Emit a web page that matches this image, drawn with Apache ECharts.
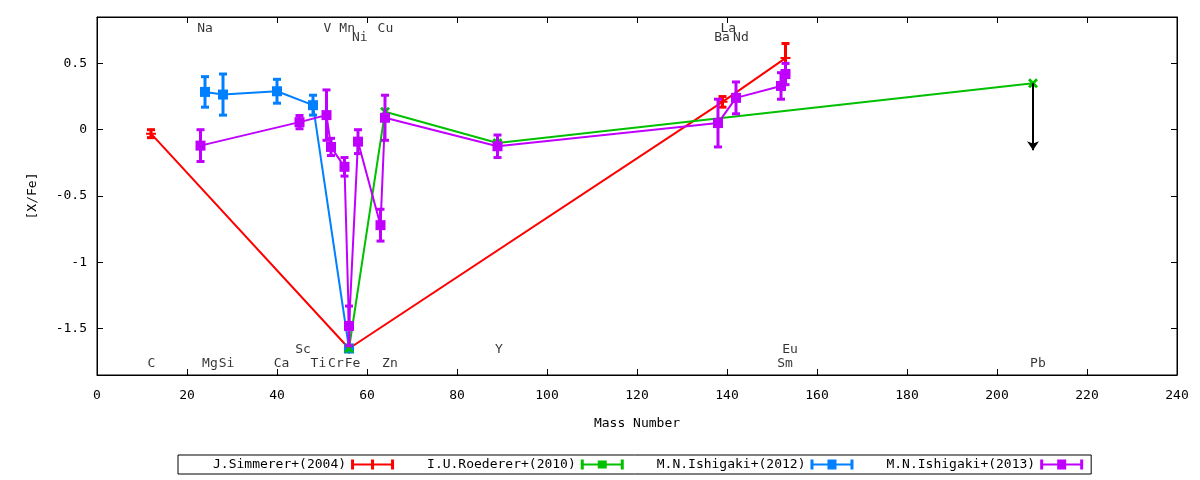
<!DOCTYPE html>
<html><head><meta charset="utf-8">
<script src="https://cdn.jsdelivr.net/npm/echarts@6/dist/echarts.min.js"></script>
<style>html,body{margin:0;padding:0;background:#fff}#c{width:1200px;height:480px}</style>
</head><body><div id="c"></div>
<script>
// ---- data ----
const xTicks = [0, 20, 40, 60, 80, 100, 120, 140, 160, 180, 200, 220, 240];
const yTicks = [-1.5, -1, -0.5, 0, 0.5];
const seriesNames = ['J.Simmerer+(2004)', 'I.U.Roederer+(2010)', 'M.N.Ishigaki+(2012)', 'M.N.Ishigaki+(2013)'];

const simmererMass = [12, 56, 139, 153];
const simmererVal  = [-0.03, -1.65, 0.21, 0.54];
const simmererErr  = [0.03, 0, 0.04, 0.11];

const roedererMass = [56, 64, 89, 208];
const roedererVal  = [-1.65, 0.135, -0.10, 0.35];
const roedererErr  = [0, 0, 0, 0];
const roedererLimitMass = [208];
const roedererLimitFrom = [0.35];
const roedererLimitTo   = [-0.155];

const ishigaki12Mass = [24, 28, 40, 48, 56];
const ishigaki12Val  = [0.285, 0.265, 0.29, 0.185, -1.65];
const ishigaki12Err  = [0.115, 0.155, 0.09, 0.075, 0];

const ishigaki13Mass = [23, 45, 51, 52, 55, 56, 58, 63, 64, 89, 138, 142, 152, 153];
const ishigaki13Val  = [-0.12, 0.057, 0.11, -0.13, -0.28, -1.48, -0.09, -0.72, 0.09, -0.125, 0.05, 0.24, 0.33, 0.42];
const ishigaki13Err  = [0.12, 0.05, 0.19, 0.065, 0.07, 0.15, 0.09, 0.12, 0.17, 0.085, 0.18, 0.12, 0.10, 0.08];

const elemNames = ['C', 'Na', 'Mg', 'Si', 'Ca', 'Sc', 'Ti', 'V', 'Cr', 'Mn', 'Fe', 'Ni', 'Cu', 'Zn', 'Y', 'Ba', 'La', 'Nd', 'Sm', 'Eu', 'Pb'];
const elemLabelX = [12.1, 24.0, 25.1, 28.8, 41.0, 45.8, 49.2, 51.2, 53.1, 55.6, 56.8, 58.4, 64.1, 65.1, 89.3, 138.9, 140.3, 143.1, 152.9, 154.0, 209.1];
const elemLabelY = [-1.766, 0.766, -1.766, -1.766, -1.766, -1.658, -1.766, 0.766, -1.766, 0.766, -1.766, 0.696, 0.766, -1.766, -1.658, 0.696, 0.766, 0.696, -1.766, -1.658, -1.766];

// ---- helpers ----
const colors = ['#ff0000', '#00c000', '#0080ff', '#c000ff'];
const zOrder = [2, 4, 3, 5];
const FONT = 'DejaVu Sans Mono';
function zip(a, b, c) { return a.map((v, i) => c ? [v, b[i], c[i]] : [v, b[i]]); }

function errRender(color) {
  return function (params, api) {
    const x = api.value(0), y = api.value(1), e = api.value(2);
    if (!e) return null;
    const t = api.coord([x, y + e]), b = api.coord([x, y - e]);
    const hw = 4;
    const style = { stroke: color, lineWidth: 3 };
    return { type: 'group', children: [
      { type: 'line', shape: { x1: t[0], y1: t[1], x2: b[0], y2: b[1] }, style: style },
      { type: 'line', shape: { x1: t[0] - hw, y1: t[1], x2: t[0] + hw, y2: t[1] }, style: style },
      { type: 'line', shape: { x1: b[0] - hw, y1: b[1], x2: b[0] + hw, y2: b[1] }, style: style }
    ]};
  };
}

const symPlus = 'path://M4,0H6V10H4ZM0,4H10V6H0Z';
const symX = 'path://M0,2L2,0L5,3L8,0L10,2L7,5L10,8L8,10L5,7L2,10L0,8L3,5Z';
const symRect = 'rect';
const symbols = [symPlus, symX, symRect, symRect];
const symSizes = [10, 10, 10, 10];

const legBase = 'M0,0H3V10H0ZM40,0H43V10H40ZM0,4H43V6H0Z';
const legIcons = [
  'path://' + legBase + 'M20,0H23V10H20Z',
  'path://' + legBase + 'M17,1H26V9H17Z',
  'path://' + legBase + 'M17,0H26V10H17Z',
  'path://' + legBase + 'M17,0H26V10H17Z'
];

const masses = [simmererMass, roedererMass, ishigaki12Mass, ishigaki13Mass];
const vals = [simmererVal, roedererVal, ishigaki12Val, ishigaki13Val];
const errs = [simmererErr, roedererErr, ishigaki12Err, ishigaki13Err];

const series = [];
for (let i = 0; i < 4; i++) {
  const s = {
    name: seriesNames[i], type: 'line', data: zip(masses[i], vals[i]),
    color: colors[i],
    lineStyle: { color: colors[i], width: 2 },
    itemStyle: { color: colors[i], borderWidth: 0 },
    symbol: symbols[i], symbolSize: symSizes[i], showAllSymbol: true,
    xAxisIndex: 0, yAxisIndex: 0, z: zOrder[i]
  };
  if (i === 1) {
    s.markLine = {
      silent: true, symbol: ['none', 'arrow'], symbolSize: 9,
      lineStyle: { color: '#000', width: 2, type: 'solid' },
      label: { show: false },
      data: roedererLimitMass.map((m, k) => [{ coord: [m, roedererLimitFrom[k]] }, { coord: [m, roedererLimitTo[k]] }])
    };
  }
  series.push(s);
  series.push({
    name: 'err' + i, type: 'custom', renderItem: errRender(colors[i]),
    data: zip(masses[i], vals[i], errs[i]), encode: { x: 0, y: 1 },
    xAxisIndex: 0, yAxisIndex: 0, z: zOrder[i], silent: true
  });
}
series.push({
  name: 'labels', type: 'scatter', symbolSize: 0, silent: true, z: 1,
  data: elemNames.map((n, i) => ({ name: n, value: [elemLabelX[i], elemLabelY[i]] })),
  label: { show: true, position: 'inside', formatter: '{b}', color: '#000', fontFamily: FONT, fontSize: 13 }
});

const axisFont = { color: '#000', fontFamily: FONT, fontSize: 13 };
const axLine = { show: true, onZero: false, lineStyle: { color: '#000' } };
const option = {
  animation: false,
  backgroundColor: '#fff',
  grid: { left: 97, top: 17, width: 1080, height: 358, show: true, borderColor: '#000', borderWidth: 1 },
  xAxis: [
    { type: 'value', min: 0, max: 240, interval: 20, position: 'bottom',
      name: 'Mass Number', nameLocation: 'middle', nameGap: 42, nameTextStyle: axisFont,
      axisLine: axLine,
      axisTick: { show: true, inside: true, length: 6, lineStyle: { color: '#000' } },
      axisLabel: Object.assign({ margin: 14 }, axisFont),
      splitLine: { show: false } },
    { type: 'value', min: 0, max: 240, interval: 20, position: 'top',
      axisLine: axLine,
      axisTick: { show: true, inside: true, length: 6, lineStyle: { color: '#000' } },
      axisLabel: { show: false }, splitLine: { show: false } }
  ],
  yAxis: [
    { type: 'value', min: -1.85, max: 0.85, position: 'left',
      name: '[X/Fe]', nameLocation: 'middle', nameGap: 58, nameTextStyle: axisFont,
      axisLine: axLine,
      axisTick: { show: true, inside: true, length: 6, customValues: yTicks, lineStyle: { color: '#000' } },
      axisLabel: Object.assign({ margin: 10, customValues: yTicks }, axisFont),
      splitLine: { show: false } },
    { type: 'value', min: -1.85, max: 0.85, position: 'right',
      axisLine: axLine,
      axisTick: { show: true, inside: true, length: 6, customValues: yTicks, lineStyle: { color: '#000' } },
      axisLabel: { show: false }, splitLine: { show: false } }
  ],
  legend: {
    left: 178, top: 455, align: 'right', orient: 'horizontal',
    itemWidth: 43, itemHeight: 10, itemGap: 33,
    padding: [3, 8, 3, 35],
    borderColor: '#000', borderWidth: 1, borderRadius: 0,
    selectedMode: false,
    itemStyle: { borderWidth: 0 },
    textStyle: axisFont,
    data: seriesNames.map((n, i) => ({ name: n, icon: legIcons[i], itemStyle: { color: colors[i], borderWidth: 0 } }))
  },
  series: series
};
const chart = echarts.init(document.getElementById('c'), null, { renderer: 'canvas' });
chart.setOption(option);
</script>
</body></html>
